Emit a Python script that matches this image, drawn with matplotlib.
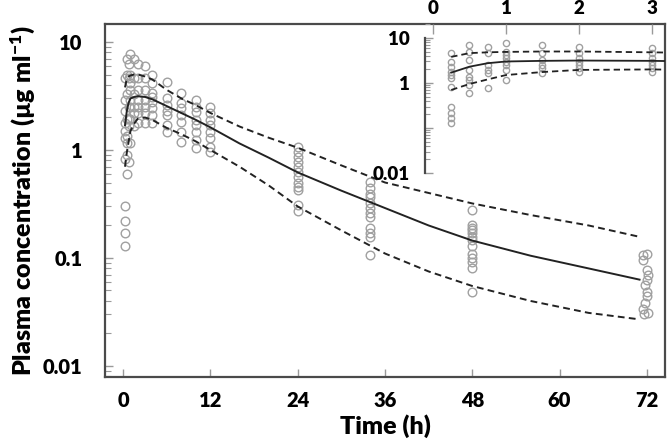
import matplotlib
matplotlib.use("Agg")
import matplotlib.pyplot as plt
from matplotlib.ticker import LogLocator, NullFormatter, FixedFormatter, FixedLocator

plt.rcParams['font.family'] = ['Lato', 'DejaVu Sans']
plt.rcParams['font.weight'] = 'heavy'
plt.rcParams['mathtext.fontset'] = 'custom'
plt.rcParams['mathtext.rm'] = 'Lato:heavy'
plt.rcParams['mathtext.it'] = 'Lato:heavy'
plt.rcParams['mathtext.bf'] = 'Lato:heavy'

# prediction curves (median and 90% interval)
pred_time = [0.25, 0.5, 0.75, 1, 1.5, 2, 3, 4, 6, 8, 10, 12, 16, 20, 24,
             30, 36, 42, 48, 56, 64, 71]
pred_median = [1.7, 2.3, 2.75, 3.0, 3.1, 3.15, 3.1, 2.95, 2.55, 2.2, 1.9, 1.62,
               1.15, 0.85, 0.62, 0.42, 0.29, 0.2, 0.145, 0.105, 0.08, 0.063]
pred_upper = [3.8, 4.6, 4.8, 4.9, 5.0, 5.0, 4.8, 4.5, 3.6, 3.0, 2.6, 2.2,
              1.65, 1.3, 1.05, 0.72, 0.5, 0.4, 0.32, 0.25, 0.2, 0.157]
pred_lower = [0.7, 0.95, 1.2, 1.5, 1.75, 1.95, 2.0, 1.9, 1.6, 1.4, 1.2, 1.0,
              0.7, 0.47, 0.3, 0.18, 0.11, 0.075, 0.055, 0.04, 0.031, 0.027]

# observed concentrations
obs_time = ([0.25] * 11 + [0.5] * 8 + [0.75] * 6 + [1] * 8 + [1.5] * 6 + [2] * 7
            + [3] * 7 + [4] * 8 + [6] * 7 + [8] * 7 + [10] * 8 + [12] * 8
            + [24] * 12 + [34] * 12 + [48] * 13
            + [72, 71.5, 71.5, 72, 72.2, 72, 71.8, 72, 72, 71.8, 71.5, 72.2, 71.6])
obs_conc = ([4.6, 2.9, 2.3, 1.76, 1.5, 1.3, 0.82, 0.3, 0.22, 0.17, 0.13]
            + [7.0, 4.9, 3.3, 1.95, 1.36, 1.17, 0.9, 0.6]
            + [6.3, 4.6, 2.5, 1.95, 1.67, 0.77]
            + [7.7, 4.9, 4.2, 3.6, 2.9, 2.5, 1.95, 1.17]
            + [7.0, 4.6, 3.3, 2.5, 2.2, 1.67]
            + [6.3, 4.6, 3.6, 2.9, 2.5, 2.2, 1.76]
            + [6.0, 4.6, 3.6, 2.9, 2.5, 2.2, 1.76]
            + [4.9, 4.2, 3.4, 3.1, 2.8, 2.45, 2.1, 1.78]
            + [4.3, 3.0, 2.6, 2.3, 2.1, 1.7, 1.47]
            + [3.4, 2.7, 2.45, 2.1, 1.8, 1.47, 1.19]
            + [2.9, 2.5, 2.25, 1.9, 1.7, 1.47, 1.24, 1.04]
            + [2.5, 2.2, 1.9, 1.7, 1.47, 1.29, 1.07, 0.96]
            + [1.07, 0.96, 0.86, 0.77, 0.7, 0.63, 0.56, 0.5, 0.45, 0.43, 0.31, 0.27]
            + [0.51, 0.44, 0.39, 0.37, 0.32, 0.29, 0.26, 0.24, 0.19, 0.17, 0.157, 0.107]
            + [0.28, 0.2, 0.19, 0.18, 0.17, 0.157, 0.147, 0.13, 0.11, 0.1, 0.092, 0.081, 0.048]
            + [0.11, 0.107, 0.096, 0.077, 0.069, 0.063, 0.056, 0.048, 0.044, 0.038,
               0.034, 0.031, 0.03])

x_ticks = [0, 12, 24, 36, 48, 60, 72]
y_ticks = [0.01, 0.1, 1, 10]
y_ticklabels = ['0.01', '0.1', '1', '10']
inset_x_ticks = [0, 1, 2, 3]
inset_y_ticklabels = ['0.01', '', '1', '10']

spine_col = '#4a4a4a'
tick_col = '#9a9a9a'
pt_col = '#a0a0a0'

fig = plt.figure(figsize=(6.68, 4.48), dpi=100)
ax = fig.add_axes([0.1572, 0.1585, 0.8383, 0.788])


def draw(a, ms, lw):
    a.plot(obs_time, obs_conc, 'o', mfc='none', mec=pt_col, ms=ms, mew=1.0, zorder=2)
    a.plot(pred_time, pred_median, '-', color='#222222', lw=lw, zorder=3)
    a.plot(pred_time, pred_upper, '--', color='#222222', lw=lw, dashes=(3.5, 2.2), zorder=3)
    a.plot(pred_time, pred_lower, '--', color='#222222', lw=lw, dashes=(3.5, 2.2), zorder=3)
    a.set_yscale('log')


draw(ax, 6.2, 1.4)
ax.set_xlim(-2.5, 74.5)
ax.set_ylim(0.0079, 14.7)
ax.set_xticks(x_ticks)
ax.yaxis.set_major_locator(FixedLocator(y_ticks))
ax.yaxis.set_major_formatter(FixedFormatter(y_ticklabels))
ax.yaxis.set_minor_locator(LogLocator(base=10, subs=range(2, 10)))
ax.yaxis.set_minor_formatter(NullFormatter())
for s in ax.spines.values():
    s.set_color(spine_col)
    s.set_linewidth(1.6)
ax.tick_params(axis='both', which='major', direction='in', length=6, width=1,
               color=tick_col, labelsize=14.5)
ax.tick_params(axis='x', pad=10)
ax.tick_params(axis='y', pad=16)
ax.tick_params(axis='y', which='minor', direction='in', length=4, width=0.8, color=tick_col)
for lab in ax.get_xticklabels() + ax.get_yticklabels():
    lab.set_fontweight('heavy')
ax.set_xlabel('Time (h)', fontsize=18, fontweight='heavy', labelpad=3)
ax.set_ylabel('Plasma concentration (µg ml$^{-1}$)', fontsize=18, fontweight='heavy',
              labelpad=4)

# inset for the first hours
ins = fig.add_axes([0.6362, 0.6138, 0.3593, 0.3326])
ins.patch.set_alpha(0)
draw(ins, 4.5, 1.3)
ins.set_xlim(-0.11, 3.18)
ins.set_ylim(0.01, 20.4)
ins.xaxis.tick_top()
ins.set_xticks(inset_x_ticks)
ins.yaxis.set_major_locator(FixedLocator(y_ticks))
ins.yaxis.set_major_formatter(FixedFormatter(inset_y_ticklabels))
ins.yaxis.set_minor_locator(LogLocator(base=10, subs=range(2, 10)))
ins.yaxis.set_minor_formatter(NullFormatter())
for side in ['top', 'right', 'bottom']:
    ins.spines[side].set_visible(False)
ins.spines['left'].set_color(spine_col)
ins.spines['left'].set_linewidth(1.6)
ins.spines['left'].set_bounds(0.01, 10)
ins.tick_params(axis='both', which='major', direction='in', length=6, width=1,
                color=tick_col, labelsize=13.5)
ins.tick_params(axis='x', pad=5, length=7)
ins.tick_params(axis='y', pad=11)
ins.tick_params(axis='y', which='minor', direction='in', length=3.5, width=0.8, color=tick_col)
for lab in ins.get_xticklabels() + ins.get_yticklabels():
    lab.set_fontweight('heavy')

fig.savefig('out.png', dpi=100)
